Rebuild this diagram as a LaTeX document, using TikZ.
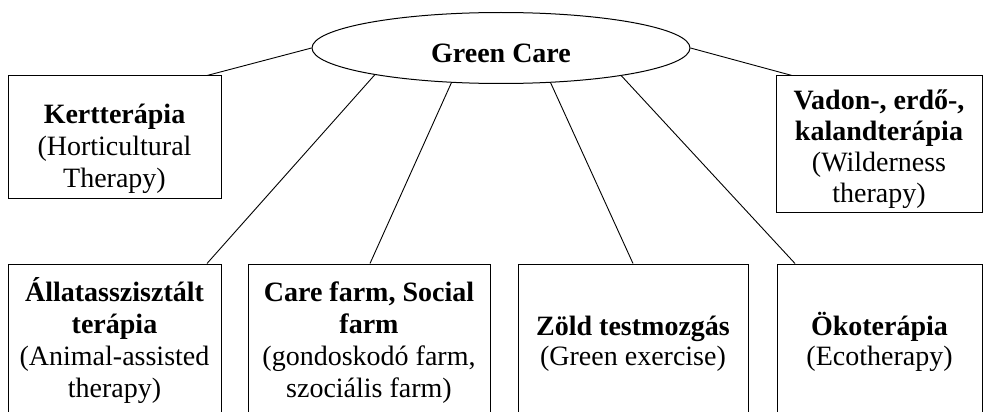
\documentclass[tikz,border=0pt]{standalone}
\usepackage{fontspec}
\setmainfont{Liberation Serif}
\usetikzlibrary{shapes.geometric}
\newcommand\mystack[1]{\vtop{\halign{\hfil##\hfil\cr#1\crcr}}}
\begin{document}
\begin{tikzpicture}[x=1pt,y=-1pt,
  box/.style={draw, line width=1pt, inner sep=0pt, font=\fontsize{28}{32}\selectfont},
  ellbox/.style={draw, ellipse, line width=1pt, inner sep=0pt, minimum width=378pt, minimum height=71pt,
    text height=29pt, text depth=0pt, font=\fontsize{28}{32}\selectfont\bfseries},
  link/.style={line width=0.9pt}]
\useasboundingbox (0,0) rectangle (983,412);
\clip (0,0) rectangle (983,412);
\node[ellbox] (gc) at (501,48) {Green Care};
\node[box, minimum width=213pt, text height=47.3pt, text depth=74.7pt] (k) at (114.5,137)
  {\mystack{\textbf{Kertterápia}\cr(Horticultural\cr Therapy)}};
\node[box, minimum width=206pt, text height=34pt, text depth=102pt, font=\fontsize{28}{31}\selectfont] (w) at (879,144)
  {\mystack{\textbf{Vadon-, erdő-,}\cr\textbf{kalandterápia}\cr(Wilderness\cr therapy)}};
\node[box, minimum width=213pt, text height=37.5pt, text depth=122.5pt] (a) at (114.5,344)
  {\mystack{\textbf{Állatasszisztált}\cr\textbf{terápia}\cr(Animal-assisted\cr therapy)}};
\node[box, minimum width=242pt, text height=37.5pt, text depth=122.5pt] (b) at (369,344)
  {\mystack{\textbf{Care farm, Social}\cr\textbf{farm}\cr(gondoskodó farm,\cr szociális farm)}};
\node[box, minimum width=230pt, text height=71pt, text depth=89pt, font=\fontsize{28}{30}\selectfont] (c) at (633,344)
  {\mystack{\textbf{Zöld testmozgás}\cr(Green exercise)}};
\node[box, minimum width=205pt, text height=71pt, text depth=89pt, font=\fontsize{28}{30}\selectfont] (d) at (879.5,344)
  {\mystack{\textbf{Ökoterápia}\cr(Ecotherapy)}};
\draw[link] (gc.180) -- ([xshift=92.5pt]k.north);
\draw[link] (gc.192) -- ([xshift=92.5pt]a.north);
\draw[link] (gc.215) -- ([xshift=1pt]b.north);
\draw[link] (gc.325) -- (c.north);
\draw[link] (gc.347.6) -- ([xshift=-84.5pt]d.north);
\draw[link] (gc.0) -- ([xshift=-87pt]w.north);
\end{tikzpicture}
\end{document}
